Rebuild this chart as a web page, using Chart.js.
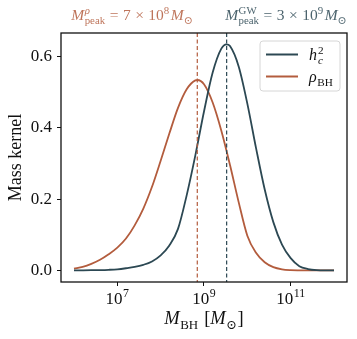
<!DOCTYPE html>
<html><head><meta charset="utf-8">
<script src="https://cdn.jsdelivr.net/npm/chart.js@4"></script>
<style>html,body{margin:0;padding:0;background:#fff;overflow:hidden}#wrap{width:357px;height:339px}</style>
</head><body><div id="wrap"><canvas id="c" width="357" height="339"></canvas></div>
<script>
// ---- data (x = log10 of M_BH / M_sun) ----
const rhoLogM = [6.0,6.2,6.4,6.6,6.8,7.0,7.2,7.4,7.6,7.8,8.0,8.2,8.4,8.6,8.8,8.85,9.0,9.2,9.4,9.6,9.8,10.0,10.2,10.4,10.6,10.8,11.0,11.2,11.4,11.6,11.8,12.0];
const rhoValues = [0.0059,0.0109,0.0192,0.0304,0.0458,0.0645,0.090,0.127,0.174,0.235,0.308,0.384,0.456,0.508,0.533,0.534,0.522,0.471,0.392,0.296,0.192,0.098,0.050,0.0235,0.0099,0.0038,0.0016,0.0010,0.0008,0.0008,0.0008,0.0008];
const hcLogM = [6.0,6.2,6.4,6.6,6.8,7.0,7.2,7.4,7.6,7.8,8.0,8.2,8.4,8.6,8.8,9.0,9.2,9.4,9.52,9.6,9.8,10.0,10.2,10.4,10.6,10.8,11.0,11.2,11.4,11.6,11.8,12.0];
const hcValues = [0.0010,0.0011,0.0013,0.0017,0.0025,0.0039,0.0068,0.0105,0.0164,0.0259,0.0429,0.0705,0.117,0.211,0.323,0.446,0.555,0.622,0.634,0.629,0.572,0.468,0.344,0.228,0.136,0.073,0.035,0.0126,0.0047,0.0016,0.0010,0.0010];
const xTickExponents = [7, 9, 11];
const yTickValues = [0.0, 0.2, 0.4, 0.6];
const peakRhoMass = 7e8;     // M^rho_peak
const peakGwMass = 3.33e9;   // M^GW_peak (labelled 3 x 10^9)
const peakRhoLabel = {mant: '7', exp: '8'};
const peakGwLabel = {mant: '3', exp: '9'};

const HC_COLOR = '#2c4853';
const RHO_COLOR = '#b35c3d';
const SERIF = '"Liberation Serif","DejaVu Serif",serif';

function fnt(it, size){ return (it?'italic ':'') + size + 'px ' + SERIF; }
function layoutMath(ctx, segs, size){
  let w = 0; const items = [];
  for (const s of segs){
    if (s.stack){
      const ss = size*0.7;
      let mw = 0; const parts = [];
      s.stack.forEach((q, k) => {
        ctx.font = fnt(q.it, ss); mw = Math.max(mw, ctx.measureText(q.t).width);
        parts.push({t:q.t, it:q.it, sz:ss, dy: k===0 ? -size*0.40 : size*0.28});
      });
      items.push({x:w, parts}); w += mw + (s.gap||0);
    } else {
      const sz = (s.p==='sup'||s.p==='sub') ? size*0.7 : size;
      const dy = s.p==='sup' ? -size*0.40 : s.p==='sub' ? size*0.28 : 0;
      ctx.font = fnt(s.it, sz); const ww = ctx.measureText(s.t).width;
      items.push({x:w + (s.pre||0), parts:[{t:s.t, it:s.it, sz, dy}]});
      w += ww + (s.gap||0) + (s.pre||0);
    }
  }
  return {w, items};
}
function drawMath(ctx, segs, x, y, size, color, align){
  const L = layoutMath(ctx, segs, size);
  let x0 = x;
  if (align==='right') x0 = x - L.w; else if (align==='center') x0 = x - L.w/2;
  ctx.save(); ctx.fillStyle = color; ctx.textBaseline = 'alphabetic'; ctx.textAlign = 'left';
  for (const it of L.items) for (const p of it.parts){
    ctx.font = fnt(p.it, p.sz); ctx.fillText(p.t, x0 + it.x, y + p.dy);
  }
  ctx.restore();
  return L.w;
}

const overlay = {
  id: 'overlay',
  afterDatasetsDraw(chart){
    const {ctx, chartArea:a, scales:{x}} = chart;
    ctx.save(); ctx.lineWidth = 1.2; ctx.setLineDash([4,2.5]);
    [[Math.log10(peakRhoMass), RHO_COLOR],[Math.log10(peakGwMass), HC_COLOR]].forEach(([v,c])=>{
      const px = x.getPixelForValue(v);
      ctx.strokeStyle = c; ctx.beginPath(); ctx.moveTo(px, a.top); ctx.lineTo(px, a.bottom); ctx.stroke();
    });
    ctx.restore();
  },
  afterDraw(chart){
    const {ctx, chartArea:a, scales:{x}} = chart;
    // frame
    ctx.save(); ctx.strokeStyle = '#111'; ctx.lineWidth = 1.3;
    ctx.strokeRect(a.left, a.top, a.right-a.left, a.bottom-a.top); ctx.restore();
    // x tick labels 10^n
    xTickExponents.forEach(e=>{
      const px = x.getPixelForValue(e);
      drawMath(ctx, [{t:'10', gap:0.5},{t:String(e), p:'sup'}], px, 304, 17, '#111', 'center');
    });
    // x title
    drawMath(ctx, [{t:'M', it:true, gap:0.5},{t:'BH', p:'sub', gap:6},{t:'['},{t:'M', it:true, gap:0.5},{t:'\u2299', p:'sub', gap:0.5},{t:']'}],
      (a.left+a.right)/2, 324, 18.5, '#111', 'center');
    // peak annotations
    const rx = x.getPixelForValue(Math.log10(peakRhoMass));
    const gx = x.getPixelForValue(Math.log10(peakGwMass));
    const SZ = 15.5, G = 4.5;
    drawMath(ctx, [{t:'M', it:true, gap:0.5},{stack:[{t:'\u03c1', it:true},{t:'peak'}], gap:G},{t:'=', gap:G},{t:peakRhoLabel.mant, gap:G},{t:'\u00d7', gap:G},{t:'10'},{t:peakRhoLabel.exp, p:'sup', gap:1.5},{t:'M', it:true},{t:'\u2299', p:'sub'}],
      rx - 4.5, 20, SZ, 'rgba(179,92,61,0.85)', 'right');
    drawMath(ctx, [{t:'M', it:true, gap:0.5},{stack:[{t:'GW'},{t:'peak'}], gap:G},{t:'=', gap:G},{t:peakGwLabel.mant, gap:G},{t:'\u00d7', gap:G},{t:'10'},{t:peakGwLabel.exp, p:'sup', gap:1.5},{t:'M', it:true},{t:'\u2299', p:'sub'}],
      gx - 1.5, 20, SZ, 'rgba(44,72,83,0.85)', 'left');
    // legend
    ctx.save();
    const bx = 260, by = 41, bw = 80, bh = 50, r = 3;
    ctx.beginPath();
    ctx.moveTo(bx+r, by); ctx.lineTo(bx+bw-r, by); ctx.arcTo(bx+bw, by, bx+bw, by+r, r);
    ctx.lineTo(bx+bw, by+bh-r); ctx.arcTo(bx+bw, by+bh, bx+bw-r, by+bh, r);
    ctx.lineTo(bx+r, by+bh); ctx.arcTo(bx, by+bh, bx, by+bh-r, r);
    ctx.lineTo(bx, by+r); ctx.arcTo(bx, by, bx+r, by, r); ctx.closePath();
    ctx.fillStyle = 'rgba(255,255,255,0.8)'; ctx.fill();
    ctx.strokeStyle = '#d6d6d6'; ctx.lineWidth = 1; ctx.stroke();
    ctx.lineWidth = 2;
    ctx.strokeStyle = HC_COLOR; ctx.beginPath(); ctx.moveTo(266, 54.5); ctx.lineTo(298, 54.5); ctx.stroke();
    ctx.strokeStyle = RHO_COLOR; ctx.beginPath(); ctx.moveTo(266, 76.5); ctx.lineTo(298, 76.5); ctx.stroke();
    ctx.restore();
    drawMath(ctx, [{t:'h', it:true, gap:1},{stack:[{t:'2'},{t:'c', it:true}]}], 309, 60, 16, '#111', 'left');
    drawMath(ctx, [{t:'\u03c1', it:true, gap:0.5},{t:'BH', p:'sub'}], 309, 82, 16, '#111', 'left');
  }
};

new Chart(document.getElementById('c'), {
  type: 'line',
  data: { datasets: [
    { label: 'h_c^2', data: hcLogM.map((v,i)=>({x:v, y:hcValues[i]})), borderColor: HC_COLOR, borderWidth: 1.8, pointRadius: 0, cubicInterpolationMode: 'monotone', fill: false },
    { label: 'rho_BH', data: rhoLogM.map((v,i)=>({x:v, y:rhoValues[i]})), borderColor: RHO_COLOR, borderWidth: 1.8, pointRadius: 0, cubicInterpolationMode: 'monotone', fill: false }
  ]},
  options: {
    responsive: false, animation: false, devicePixelRatio: 1,
    layout: { padding: { left: 0, right: 10, top: 33, bottom: 0 } },
    plugins: { legend: { display: false }, tooltip: { enabled: false } },
    scales: {
      x: { type: 'linear', min: 5.7, max: 12.3,
        afterBuildTicks: s => { s.ticks = xTickExponents.map(v=>({value:v})); },
        afterFit: s => { s.height = 57; },
        ticks: { display: false },
        border: { display: false },
        grid: { drawOnChartArea: false, drawTicks: true, tickLength: 4, color: '#111', lineWidth: 1 } },
      y: { type: 'linear', min: -0.0317, max: 0.6657,
        afterBuildTicks: s => { s.ticks = yTickValues.map(v=>({value:v})); },
        afterFit: s => { s.width = 61; },
        ticks: { callback: v => Number(v).toFixed(1), color: '#111', font: { family: SERIF, size: 17 }, padding: 5 },
        border: { display: false },
        grid: { drawOnChartArea: false, drawTicks: true, tickLength: 4, color: '#111', lineWidth: 1 },
        title: { display: true, text: 'Mass kernel', color: '#111', font: { family: SERIF, size: 18 }, padding: { top: 5, bottom: 0 } } }
    }
  },
  plugins: [overlay]
});
</script></body></html>
